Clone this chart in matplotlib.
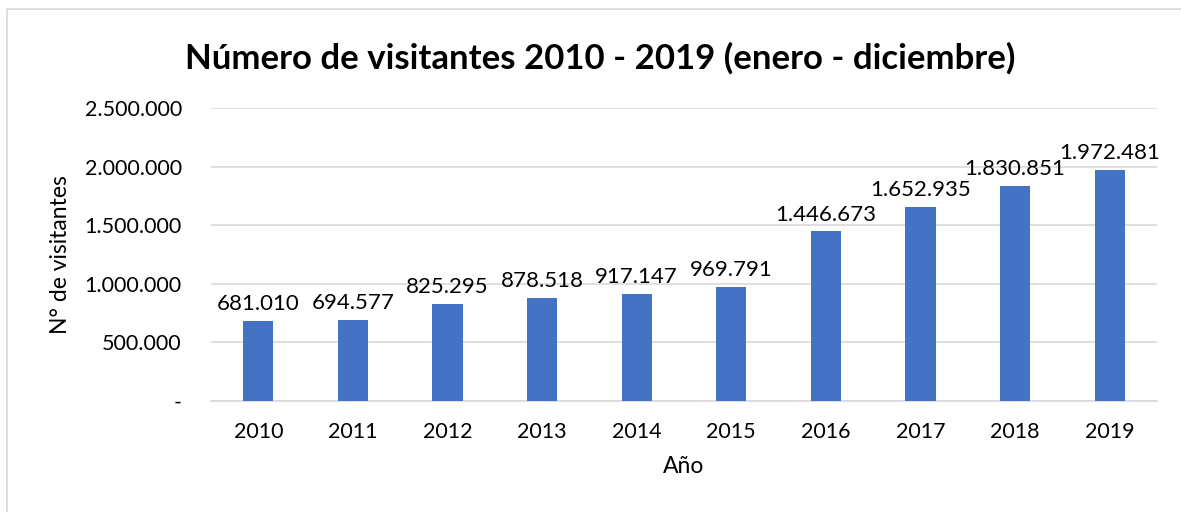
import matplotlib.pyplot as plt
from matplotlib.patches import Rectangle

years = ["2010", "2011", "2012", "2013", "2014", "2015", "2016", "2017", "2018", "2019"]
visitors = [681010, 694577, 825295, 878518, 917147, 969791, 1446673, 1652935, 1830851, 1972481]
y_ticks = [0, 500000, 1000000, 1500000, 2000000, 2500000]


def fmt_es(v):
    return "{:,}".format(v).replace(",", ".")


plt.rcParams["font.family"] = ["Lato", "DejaVu Sans"]

fig = plt.figure(figsize=(11.81, 5.12), dpi=100)
ax = fig.add_axes([211 / 1181, 1 - 401 / 512, (1157 - 211) / 1181, (401 - 108) / 512])

# chart border (Excel-like frame)
fig.patches.append(Rectangle((7 / 1181, -0.1), 1.2, 1 - 9 / 512 + 0.1, transform=fig.transFigure,
                             fill=False, edgecolor="#d9d9d9", lw=1.2))

x = range(len(years))
ax.bar(x, visitors, width=0.32, color="#4472C4", zorder=3)
for i, v in enumerate(visitors):
    ax.annotate(fmt_es(v), (i, v), xytext=(0, 5), textcoords="offset points",
                ha="center", va="bottom", fontsize=16, color="#000000", zorder=4)

ax.set_xlim(-0.5, len(years) - 0.5)
ax.set_ylim(0, 2500000)
ax.set_yticks(y_ticks)
ax.set_yticklabels(["-"] + [fmt_es(t) for t in y_ticks[1:]], fontsize=15.5)
ax.set_xticks(list(x))
ax.set_xticklabels(years, fontsize=15.5)
ax.tick_params(length=0)
ax.tick_params(axis="x", pad=15)
ax.tick_params(axis="y", pad=21)

ax.grid(axis="y", color="#d9d9d9", lw=1.2, zorder=0)
for s in ["top", "right", "left"]:
    ax.spines[s].set_visible(False)
ax.spines["bottom"].set_color("#d9d9d9")
ax.spines["bottom"].set_linewidth(1.2)

ax.set_xlabel("Año", fontsize=16.5, labelpad=10)
ax.set_ylabel("N° de visitantes", fontsize=16.5, labelpad=10)

fig.text(0.508, 1 - 58 / 512, "Número de visitantes 2010 - 2019 (enero - diciembre)",
         ha="center", va="center", fontsize=25, fontweight="bold")

fig.savefig("out.png", dpi=100, facecolor="white")
